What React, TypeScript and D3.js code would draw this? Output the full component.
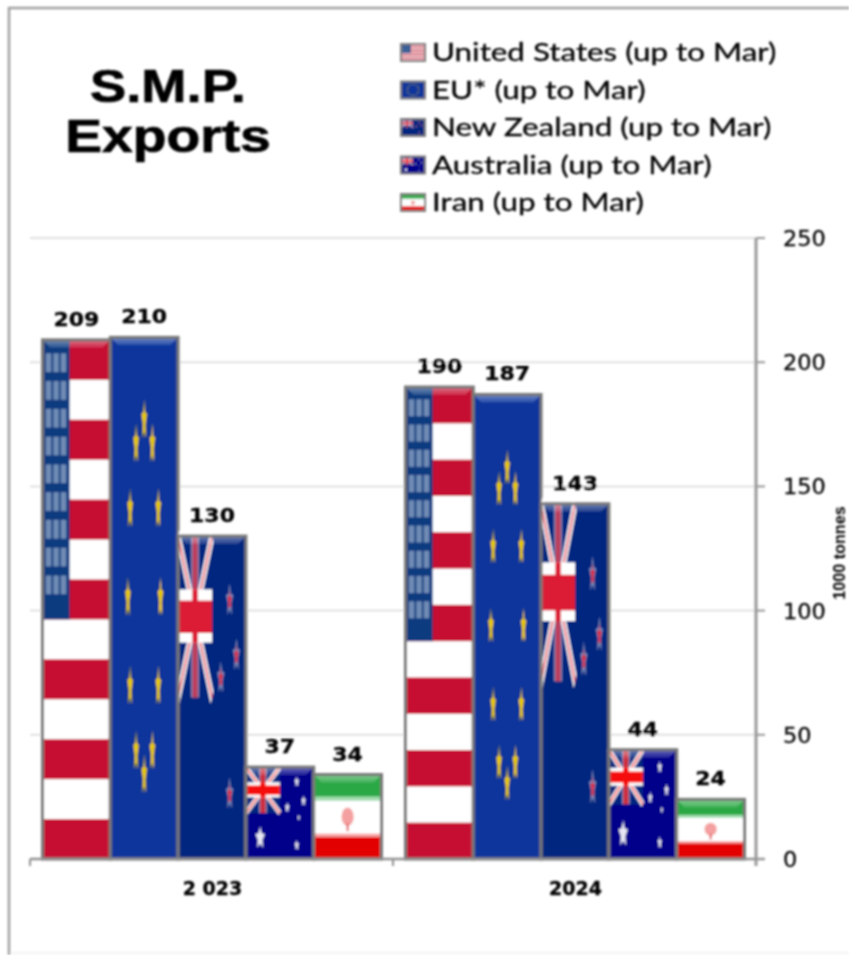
import * as d3 from "d3";

const years = ["2 023", "2024"];
const countries = ["United States", "EU", "New Zealand", "Australia", "Iran"];
const legendLabels = [
  "United States (up to Mar)",
  "EU* (up to Mar)",
  "New Zealand (up to Mar)",
  "Australia (up to Mar)",
  "Iran (up to Mar)",
];
const values2023 = [209, 210, 130, 37, 34];
const values2024 = [190, 187, 143, 44, 24];
const yTicks = [0, 50, 100, 150, 200, 250];

const yearValues = [values2023, values2024];

const WIDTH = 849;
const HEIGHT = 955;

const x0 = d3.scaleBand<string>().domain(years).range([30, 756]);
const x1 = d3
  .scaleBand<string>()
  .domain(countries)
  .range([12.5, 363 - 11.5]);
const y = d3.scaleLinear().domain([0, 250]).range([859, 238]);
const legendY = d3.scalePoint<string>().domain(legendLabels).range([52, 202]);

// five pointed star around 0,0, gets squashed with the flag it sits on
function starPath(r: number) {
  const pts = d3.range(10).map((i) => [(i * Math.PI) / 5, i % 2 ? r * 0.5 : r] as [number, number]);
  return d3.lineRadial().curve(d3.curveLinearClosed)(pts) as string;
}

function UnionJack({ red }: { red: string }) {
  return (
    <g>
      <rect width={100} height={100} fill="#04267f" />
      <path d="M0 0L100 100M100 0L0 100" stroke="#fff" strokeWidth={11} />
      <path d="M0 0L100 100M100 0L0 100" stroke={red} strokeWidth={4} opacity={0.75} />
      <rect x={38} width={24} height={100} fill="#fff" opacity={0.45} />
      <rect x={42} width={16} height={100} fill={red} opacity={0.7} />
      <rect y={33} width={100} height={33} fill="#fff" />
      <rect y={40} width={100} height={20} fill={red} />
      <rect x={42} y={33} width={16} height={33} fill={red} />
    </g>
  );
}

function USFlag() {
  const stripe = 100 / 13;
  return (
    <g>
      <rect width={100} height={100} fill="#fff" />
      {d3.range(0, 13, 2).map((i) => (
        <rect key={i} y={i * stripe} width={100} height={stripe} fill="#c60c30" />
      ))}
      <rect width={40} height={stripe * 7} fill="#0a3a80" />
      {d3.range(9).map((r) =>
        d3.range(3).map((c) => (
          <rect
            key={`${r}-${c}`}
            x={5 + c * 11}
            y={2.6 + r * 5.35}
            width={8}
            height={3.6}
            fill="#fff"
            opacity={0.42}
          />
        )),
      )}
    </g>
  );
}

function EUFlag() {
  return (
    <g>
      <rect width={100} height={100} fill="#0a349c" />
      {d3.range(12).map((i) => {
        const a = (i * Math.PI) / 6;
        return (
          <path
            key={i}
            d={starPath(4.2)}
            transform={`translate(${50 + 24 * Math.sin(a)},${50 - 34 * Math.cos(a)})`}
            fill="#e8c800"
          />
        );
      })}
    </g>
  );
}

function NZFlag() {
  const stars = [
    [76, 20],
    [86, 37],
    [63, 44],
    [76, 80],
  ];
  return (
    <g>
      <rect width={100} height={100} fill="#04267f" />
      <g transform="scale(0.5)">
        <UnionJack red="#dc1c34" />
      </g>
      {stars.map(([sx, sy], i) => (
        <g key={i} transform={`translate(${sx},${sy})`}>
          <path d={starPath(5.5)} fill="#fff" opacity={0.45} />
          <path d={starPath(3.2)} fill="#dc1c34" />
        </g>
      ))}
    </g>
  );
}

function AUFlag() {
  const stars = [
    [75, 16, 6],
    [85, 37, 6],
    [61, 44, 6],
    [78, 55, 3.5],
    [75, 85, 6],
    [21, 77, 13],
  ];
  return (
    <g>
      <rect width={100} height={100} fill="#00008b" />
      <g transform="scale(0.5)">
        <UnionJack red="#f50a0a" />
      </g>
      {stars.map(([sx, sy, r], i) => (
        <path
          key={i}
          d={starPath(r)}
          transform={`translate(${sx},${sy}) scale(0.55,1)`}
          fill="#fff"
          opacity={0.9}
        />
      ))}
    </g>
  );
}

function IranFlag() {
  return (
    <g>
      <rect width={100} height={100} fill="#fff" />
      <rect width={100} height={27} fill="#2aa845" />
      <rect y={26} width={100} height={5} fill="#9fdcae" />
      <rect y={70} width={100} height={5} fill="#f8a0a0" />
      <rect y={74} width={100} height={26} fill="#e20000" />
      <ellipse cx={50} cy={50} rx={9} ry={11} fill="#f4a0a0" />
      <rect x={48.5} y={58} width={3} height={9} fill="#e26060" />
    </g>
  );
}

const flags = [USFlag, EUFlag, NZFlag, AUFlag, IranFlag];

function Bar({ country, x, top, width }: { country: number; x: number; top: number; width: number }) {
  const Flag = flags[country];
  const h = y(0) - top;
  const b = 8;
  return (
    <g>
      <g transform={`translate(${x},${top}) scale(${width / 100},${h / 100})`}>
        <Flag />
      </g>
      <path
        d={`M${x} ${top}H${x + width}L${x + width - b} ${top + b}H${x + b}Z`}
        fill="url(#bevel)"
      />
      <rect x={x} y={top} width={width} height={h} fill="none" stroke="#787878" strokeWidth={3} />
    </g>
  );
}

function Stretched({
  x,
  y: ty,
  sx,
  anchor = "start",
  children,
  ...rest
}: any) {
  return (
    <text transform={`translate(${x},${ty}) scale(${sx},1)`} textAnchor={anchor} {...rest}>
      {children}
    </text>
  );
}

export default function App() {
  const bw = x1.bandwidth();
  return (
    <svg
      width={WIDTH}
      height={HEIGHT}
      viewBox={`0 0 ${WIDTH} ${HEIGHT}`}
      style={{ position: "absolute", left: 0, top: 0, background: "#fff" }}
    >
      <defs>
        <filter id="soft" filterUnits="userSpaceOnUse" x={0} y={0} width={WIDTH} height={HEIGHT}>
          <feGaussianBlur stdDeviation={0.8} />
        </filter>
        <linearGradient id="bevel" x1={0} y1={0} x2={0} y2={1}>
          <stop offset="0%" stopColor="#fff" stopOpacity={0.42} />
          <stop offset="100%" stopColor="#fff" stopOpacity={0.12} />
        </linearGradient>
      </defs>
      <g filter="url(#soft)">
        <path d={`M9 ${HEIGHT}V8H${WIDTH}`} fill="none" stroke="#a0a0a0" strokeWidth={2.5} />
        <path d={`M10 953H${WIDTH}`} fill="none" stroke="#eeeeee" strokeWidth={1.5} />

        <g
          fontFamily="'Liberation Sans', Arial"
          fontWeight={700}
          fontSize={46}
          fill="#000"
          stroke="#000"
          strokeWidth={0.7}
        >
          <Stretched x={168} y={102} sx={1.18} anchor="middle">
            S.M.P.
          </Stretched>
          <Stretched x={168} y={152} sx={1.2} anchor="middle">
            Exports
          </Stretched>
        </g>

        {legendLabels.map((label, i) => {
          const cy = legendY(label) as number;
          const Flag = flags[i];
          return (
            <g key={label}>
              <g transform={`translate(401,${cy - 8}) scale(0.24,0.17)`}>
                <Flag />
              </g>
              <rect x={401} y={cy - 8} width={24} height={17} fill="none" stroke="#808080" strokeWidth={2} />
              <Stretched
                x={432}
                y={cy + 9}
                sx={1.255}
                fontFamily="Lato"
                fontSize={25}
                fill="#000"
                stroke="#000"
                strokeWidth={0.3}
              >
                {label}
              </Stretched>
            </g>
          );
        })}

        {yTicks.slice(1).map((t) => (
          <line key={t} x1={30} x2={756} y1={y(t)} y2={y(t)} stroke="#e0e0e0" strokeWidth={2} />
        ))}

        {years.map((year, yi) => (
          <g key={year}>
            {countries.map((c, ci) => {
              const v = yearValues[yi][ci];
              const bx = (x0(year) as number) + (x1(c) as number);
              return (
                <Bar key={c} country={ci} x={bx} top={y(v)} width={bw} />
              );
            })}
            {countries.map((c, ci) => {
              const v = yearValues[yi][ci];
              const bx = (x0(year) as number) + (x1(c) as number);
              return (
                <Stretched
                  key={c}
                  x={bx + bw / 2}
                  y={y(v) - 14}
                  sx={1.1}
                  anchor="middle"
                  fontFamily="'DejaVu Sans'"
                  fontWeight={700}
                  fontSize={20}
                  fill="#000"
                  stroke="#000"
                  strokeWidth={0.3}
                >
                  {v}
                </Stretched>
              );
            })}
            <text
              x={(x0(year) as number) + x0.bandwidth() / 2 + 1}
              y={895}
              textAnchor="middle"
              fontFamily="'DejaVu Sans'"
              fontWeight={700}
              fontSize={19}
              fill="#000"
              stroke="#000"
              strokeWidth={0.3}
            >
              {year}
            </text>
          </g>
        ))}

        <line x1={30} x2={765} y1={y(0)} y2={y(0)} stroke="#909090" strokeWidth={2.5} />
        {[30, 393, 756].map((tx) => (
          <line key={tx} x1={tx} x2={tx} y1={y(0)} y2={y(0) + 7} stroke="#909090" strokeWidth={2} />
        ))}
        <line x1={756} x2={756} y1={y(250)} y2={y(0) + 7} stroke="#989898" strokeWidth={3} />
        {yTicks.map((t) => (
          <g key={t}>
            <line x1={756} x2={765} y1={y(t)} y2={y(t)} stroke="#989898" strokeWidth={2} />
            <Stretched
              x={783}
              y={y(t) + 8}
              sx={1.07}
              fontFamily="'DejaVu Sans'"
              fontSize={21}
              fill="#000"
              stroke="#000"
              strokeWidth={0.25}
            >
              {t}
            </Stretched>
          </g>
        ))}

        <text
          transform="translate(845,553) rotate(-90) scale(0.95,1)"
          textAnchor="middle"
          fontFamily="'Liberation Sans'"
          fontWeight={700}
          fontSize={17}
          fill="#000"
        >
          1000 tonnes
        </text>
      </g>
    </svg>
  );
}
